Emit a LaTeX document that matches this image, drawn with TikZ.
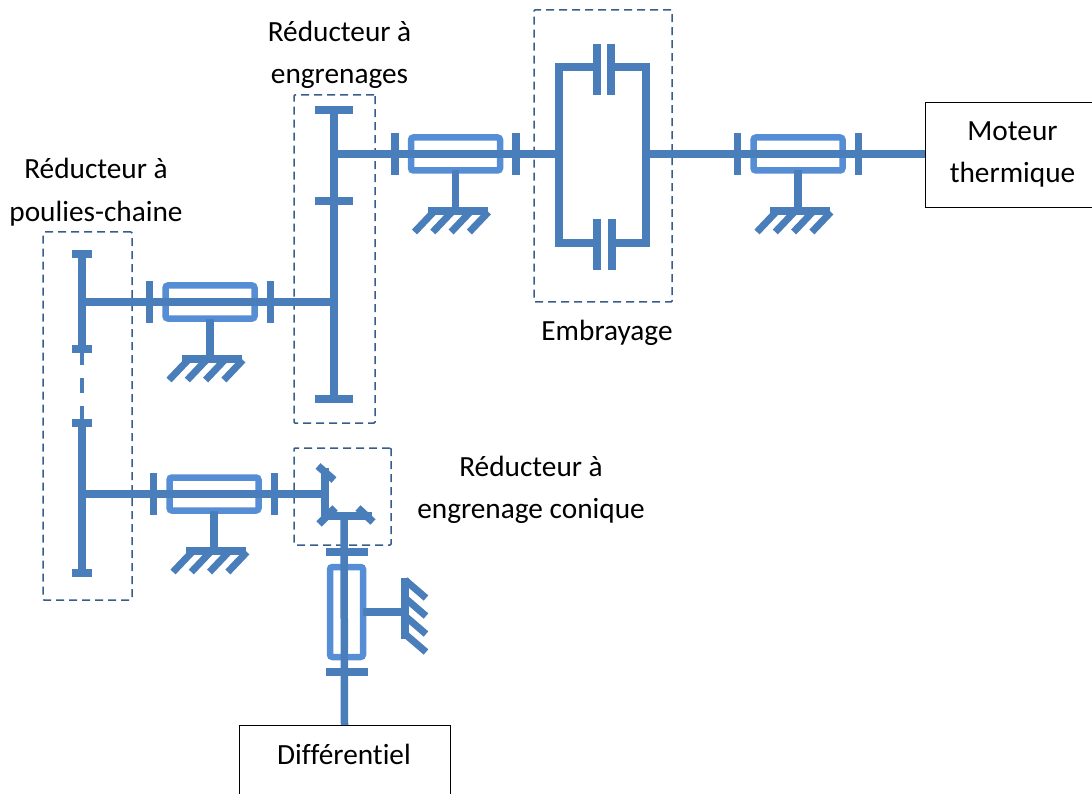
\documentclass[tikz,border=0pt]{standalone}
\usepackage{fontspec}
\setmainfont[Ligatures=NoCommon]{Carlito}
\definecolor{shaftblue}{HTML}{4A7EBB}
\definecolor{bearblue}{HTML}{558ED5}
\definecolor{dashblue}{HTML}{385D8A}
\tikzset{
  part/.style={draw=shaftblue,line width=7.5pt},
  thin part/.style={draw=shaftblue,line width=7pt},
  chain dash/.style={draw=shaftblue,line width=4pt},
  bearingbox/.style={draw=bearblue,line width=6.5pt,rounded corners=2.5pt,inner sep=0pt,outer sep=0pt,minimum width=89pt,minimum height=33pt},
  bearingboxv/.style={draw=bearblue,line width=6.5pt,rounded corners=2.5pt,inner sep=0pt,outer sep=0pt,minimum width=33pt,minimum height=90pt},
  groupbox/.style={draw=dashblue,line width=1.5pt,dash pattern=on 8pt off 5pt,rounded corners=1pt,inner sep=0pt,outer sep=0pt},
  extbox/.style={draw=black,line width=0.8pt,inner sep=0pt,outer sep=0pt,align=center},
  lbl/.style={align=center,inner sep=0pt,text=black,font=\fontsize{29.3}{42.5}\selectfont},
}
\newcommand{\hbearing}[3]{%
  \node[bearingbox] (#1) at (#2,#3) {};
  \begin{scope}[shift={(#2,#3)}]
    \draw[part] (-60.5,-21) -- (-60.5,21);
    \draw[part] (60.5,-21) -- (60.5,21);
    \coordinate (#1g) at (0,57);
    \draw[part] (#1.south) -- (#1g);
    \draw[part] (-28,57) -- (32,57);
    \foreach \d in {0,18.3,36.6,54.9}
      \draw[thin part] (-41+\d,78) -- (-22+\d,58);
  \end{scope}}
\begin{document}
\begin{tikzpicture}[x=1pt,y=-1pt]
\useasboundingbox (0,0) rectangle (1092,794);
% group frames
\node[groupbox,minimum width=81pt,minimum height=328pt] (grpA) at (334.5,259) {};
\node[groupbox,minimum width=138pt,minimum height=292pt] (grpB) at (603,156) {};
\node[groupbox,minimum width=89pt,minimum height=368pt] (grpC) at (87.5,416) {};
\node[groupbox,minimum width=97pt,minimum height=97pt] (grpD) at (342.5,496.5) {};
% external boxes
\node[extbox,minimum width=175pt,minimum height=105pt,font=\fontsize{29.3}{42.5}\selectfont] (mot) at (1012.5,154.5) {Moteur\\thermique};
\node[extbox,minimum width=211pt,minimum height=80pt] (diff) at (344.5,765) {};
\node[lbl] (difflbl) at (344,754.5) {Différentiel};
% labels
\node[lbl] (l1) at (339.5,55) {Réducteur à\\engrenages};
\node[lbl] (l2) at (96,192) {Réducteur à\\poulies-chaine};
\node[lbl] (l3) at (607,333) {Embrayage};
\node[lbl] (l4) at (531,490) {Réducteur à\\engrenage conique};
% bearings
\hbearing{b1}{798}{154}
\hbearing{b2}{455.5}{154}
\hbearing{b3}{210}{302}
\hbearing{b4}{214}{494}
% clutch
\coordinate (cl) at (559,154);
\coordinate (cr) at (646,154);
\draw[part] (555,67) -- (593,67);
\draw[part] (614,67) -- (650,67);
\draw[part] (555,243) -- (593,243);
\draw[part] (614,243) -- (650,243);
\draw[part] (559,67) -- (559,243);
\draw[part] (646,67) -- (646,243);
\draw[part] (597,44) -- (597,95);
\draw[part] (611,44) -- (611,95);
\draw[part] (597,219) -- (597,270);
\draw[part] (612,219) -- (612,270);
% gear train
\coordinate (g1) at (334,154);
\coordinate (g2) at (334,302);
\draw[part] (334,107) -- (334,402);
\draw[part] (315,110) -- (353,110);
\draw[part] (315,201) -- (353,201);
\draw[part] (315,399) -- (353,399);
% chain
\coordinate (p1) at (82,302);
\coordinate (p2) at (82,494);
\draw[part] (82,254) -- (82,349);
\draw[chain dash] (82,349) -- (82,365);
\draw[chain dash] (82,378) -- (82,393);
\draw[chain dash] (82,406) -- (82,423);
\draw[part] (82,423) -- (82,573);
\draw[part] (72,254) -- (92,254);
\draw[part] (72,349) -- (92,349);
\draw[part] (72,423) -- (92,423);
\draw[part] (72,573) -- (92,573);
% shafts
\draw[part] (mot.west |- cr) -- (cr);
\draw[part] (cl) -- (g1);
\draw[part] (g2) -- (p1);
\coordinate (bev1) at (325,494);
\draw[part] (p2) -- (bev1);
% bevel gear
\draw[part] (325,468) -- (325,516);
\draw[part] (318,466) -- (334,480);
\draw[part] (319,524) -- (335,508);
\coordinate (bev2) at (344,516);
\draw[part] (325,516) -- (372,516);
\draw[part] (358,508) -- (373,522);
% vertical bearing
\node[bearingboxv] (b5) at (346.5,612) {};
\draw[part] (bev2) -- (diff.north);
\draw[part] (326,552) -- (368,552);
\draw[part] (326,672) -- (368,672);
\coordinate (b5g) at (405,612);
\draw[part] (b5.east) -- (b5g);
\draw[part] (405,578) -- (405,639);
\foreach \d in {0,18,36,54}
  \draw[thin part] (405,580+\d) -- (426,598+\d);
\end{tikzpicture}
\end{document}
